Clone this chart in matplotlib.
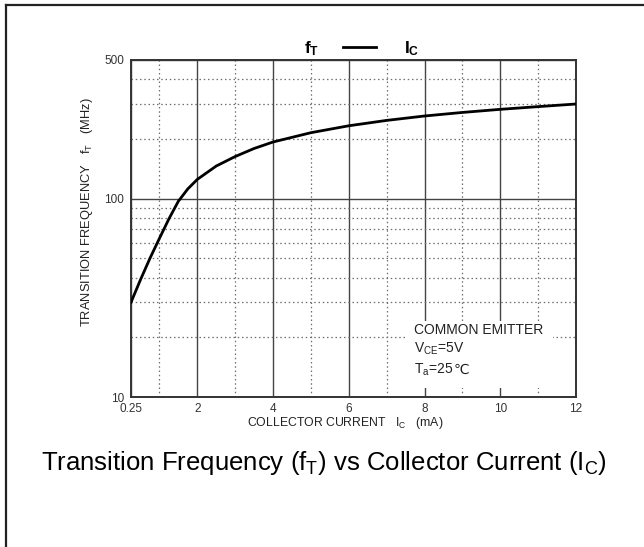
import matplotlib
matplotlib.use("Agg")
import matplotlib.pyplot as plt
from matplotlib.lines import Line2D
from matplotlib.patches import Rectangle

plt.rcParams["font.family"] = ["Liberation Sans", "DejaVu Sans"]
plt.rcParams["mathtext.fontset"] = "custom"
plt.rcParams["mathtext.rm"] = "Liberation Sans"
plt.rcParams["mathtext.it"] = "Liberation Sans:italic"
plt.rcParams["mathtext.bf"] = "Liberation Sans:bold"

# f_T vs I_C
ic_ma = [0.25, 0.5, 0.75, 1.0, 1.25, 1.5, 1.75, 2.0, 2.5, 3.0, 3.5, 4.0,
         5.0, 6.0, 7.0, 8.0, 9.0, 10.0, 11.0, 12.0]
ft_mhz = [30, 39, 50, 63, 79, 97, 112, 125, 146, 163, 179, 193,
          215, 233, 248, 261, 272, 282, 291, 300]

x_major = [0.25, 2, 4, 6, 8, 10, 12]
x_major_labels = ["0.25", "2", "4", "6", "8", "10", "12"]
x_minor = [1, 3, 5, 7, 9, 11]
y_major = [10, 100, 500]
y_major_labels = ["10", "100", "500"]
y_minor = [20, 30, 40, 50, 60, 70, 80, 90, 200, 300, 400]

conditions = ["COMMON EMITTER", r"V$_{\mathrm{CE}}$=5V", r"T$_{\mathrm{a}}$=25"]

fig = plt.figure(figsize=(6.44, 5.47), dpi=100)
ax = fig.add_axes([131 / 644, 1 - 397 / 547, 445 / 644, 337 / 547])

ax.set_yscale("log")
ax.set_xlim(0.25, 12)
ax.set_ylim(10, 500)
ax.set_axisbelow(True)

ax.set_xticks(x_major)
ax.set_xticklabels(x_major_labels)
ax.set_xticks(x_minor, minor=True)
ax.set_yticks(y_major)
ax.set_yticklabels(y_major_labels)
ax.set_yticks(y_minor, minor=True)
ax.yaxis.set_minor_formatter(plt.NullFormatter())
ax.tick_params(which="both", length=0, labelsize=8.5, colors="#333333")
ax.tick_params(axis="y", pad=5)
ax.tick_params(axis="x", pad=4)

ax.grid(which="major", color="#444444", linewidth=1.0, linestyle="-")
ax.grid(which="minor", color="#6f6f6f", linewidth=0.9, linestyle=(0, (1.2, 2.2)))

for s in ax.spines.values():
    s.set_color("#333333")
    s.set_linewidth(1.4)

ax.plot(ic_ma, ft_mhz, color="black", linewidth=2.0, zorder=3)

# white patch behind the test conditions
ax.add_patch(Rectangle((0.616, 0.027), 0.333, 0.20, transform=ax.transAxes,
                       facecolor="white", edgecolor="none", zorder=1))
tx = 0.637
fs = 10
ax.text(tx, 0.199, conditions[0], transform=ax.transAxes, fontsize=fs,
        va="center", ha="left", color="#222222", zorder=4)
ax.text(tx, 0.143, conditions[1], transform=ax.transAxes, fontsize=fs,
        va="center", ha="left", color="#222222", zorder=4)
t3 = ax.text(tx, 0.082, conditions[2], transform=ax.transAxes, fontsize=fs,
             va="center", ha="left", color="#222222", zorder=4)
ax.annotate("\u2103", xy=(1, 0.5), xycoords=t3, va="center", ha="left",
            fontsize=fs, color="#222222", family="DejaVu Sans", zorder=4)

ax.set_xlabel(r"COLLECTOR CURRENT   I$_{\mathrm{C}}$   (mA)", fontsize=8.8,
              color="#222222")
ax.xaxis.set_label_coords(0.482, -0.052)
ax.set_ylabel(r"TRANSITION FREQUENCY   f$_{\mathrm{T}}$   (MHz)", fontsize=9.3,
              color="#222222")
ax.yaxis.set_label_coords(-0.082, 0.55)

# title  f_T ---- I_C
fig.text(312 / 644, 1 - 49 / 547, r"$\mathbf{f_{T}}$", fontsize=12.5,
         ha="center", va="center")
fig.add_artist(Line2D([343 / 644, 376 / 644], [1 - 47 / 547, 1 - 47 / 547],
                      color="black", linewidth=2))
fig.text(412 / 644, 1 - 49 / 547, r"$\mathbf{I_{C}}$", fontsize=12.5,
         ha="center", va="center")

fig.text(324 / 644, 1 - 463 / 547,
         r"Transition Frequency (f$_{\mathrm{T}}$) vs Collector Current (I$_{\mathrm{C}}$)",
         fontsize=18.5, ha="center", va="center", color="black")

# frame of the original image
fig.add_artist(Line2D([5.5 / 644, 5.5 / 644], [0, 1 - 4.5 / 547],
                      color="#222222", linewidth=1.6))
fig.add_artist(Line2D([5.5 / 644, 1], [1 - 4.5 / 547, 1 - 4.5 / 547],
                      color="#222222", linewidth=1.6))

fig.savefig("out.png", dpi=100)
